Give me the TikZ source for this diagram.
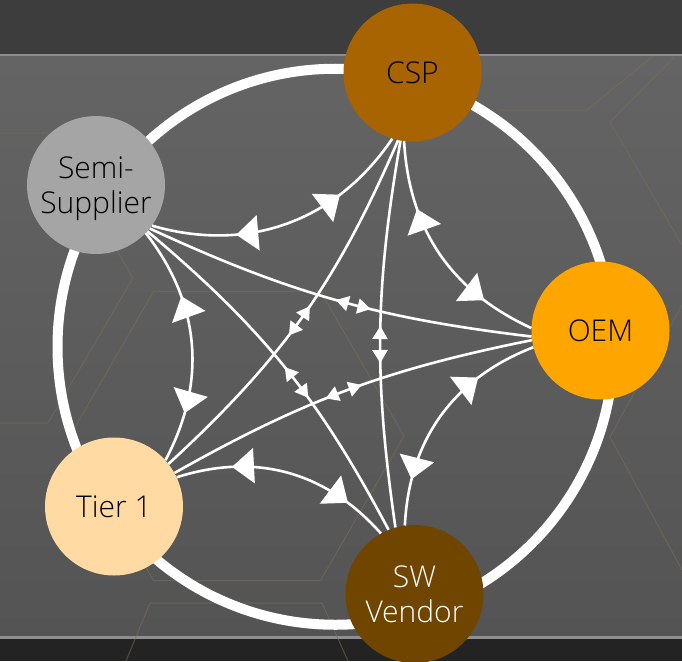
\documentclass[tikz,border=0pt]{standalone}
\usepackage{fontspec}
\setmainfont{Open Sans Light}
\usetikzlibrary{arrows.meta,decorations.markings}
\definecolor{bgtop}{HTML}{3D3D3D}
\definecolor{bgline}{HTML}{8E8E8E}
\definecolor{bgmaintop}{HTML}{646464}
\definecolor{bgmainbot}{HTML}{545454}
\definecolor{bgbot}{HTML}{232323}
\definecolor{hexc}{RGB}{120,112,86}
\definecolor{cspc}{HTML}{A86400}
\definecolor{semic}{HTML}{A5A5A5}
\definecolor{oemc}{HTML}{FFA500}
\definecolor{tierc}{HTML}{FFDAA3}
\definecolor{swc}{HTML}{6F4500}
\begin{document}
\begin{tikzpicture}[x=1pt,y=1pt,
  party/.style={circle, minimum size=138pt, inner sep=0pt, align=center,
    text depth=0pt, font=\fontsize{30}{35}\selectfont},
  link/.style={draw=white, line width=2.6pt},
  hexline/.style={draw=hexc, line width=1pt, opacity=0.55},
  bigarrows/.style 2 args={postaction={decorate}, decoration={markings,
    mark=at position #1 with {\arrowreversed[white]{Triangle[length=22pt,width=35pt]}},
    mark=at position #2 with {\arrow[white]{Triangle[length=22pt,width=35pt]}}}},
  smallarrows/.style 2 args={postaction={decorate}, decoration={markings,
    mark=at position #1 with {\arrowreversed[white]{Triangle[length=13pt,width=15pt]}},
    mark=at position #2 with {\arrow[white]{Triangle[length=13pt,width=15pt]}}}}
]
\useasboundingbox (0,0) rectangle (682,-661);
% background
\fill[bgtop] (0,0) rectangle (682,-54);
\fill[bgline] (0,-54) rectangle (682,-57);
\shade[top color=bgmaintop, bottom color=bgmainbot] (0,-57) rectangle (682,-636);
\fill[bgline] (0,-636) rectangle (682,-639);
\fill[bgbot] (0,-639) rectangle (682,-661);
% faint hexagon pattern
\draw[hexline] (153.5,-291.4) -- (320.5,-291.4) -- (404,-436) -- (320.5,-580.6) -- (153.5,-580.6) -- (70,-436) -- cycle;
\draw[hexline] (126,-661) -- (150,-603) -- (322,-603) -- (348,-661);
\draw[hexline] (500,-110) -- (587,-110) -- (652,-57);
\draw[hexline] (674,-57) -- (610,-122) -- (682,-245);
\draw[hexline] (682,-305) -- (610,-437) -- (682,-570);
\draw[hexline] (0,-133) -- (48,-133) -- (133,-278) -- (48,-423) -- (0,-423);
% ring
\coordinate (ringc) at (335.5,-346.75);
\draw[white, line width=10pt] (ringc) circle (278);
% nodes
\node[party, fill=cspc] (csp) at (412.5,-72.5) {CSP};
\node[party, fill=semic] (semi) at (96,-185) {Semi-\\Supplier};
\node[party, fill=oemc] (oem) at (600.5,-330.5) {OEM};
\node[party, fill=tierc] (tier) at (114,-506.5) {Tier 1};
\node[party, fill=swc, text=white] (sw) at (414.5,-594) {SW\\Vendor};
% adjacent links
\draw[link, bigarrows={0.31}{0.72}] (semi.-36) to[bend right=36] (csp.-107);
\draw[link, bigarrows={0.29}{0.77}] (csp.-97) to[bend right=31] (oem.178);
\draw[link, bigarrows={0.27}{0.80}] (oem.-166) to[bend right=33] (sw.98);
\draw[link, bigarrows={0.20}{0.75}] (sw.119) to[bend right=33] (tier.25);
\draw[link, bigarrows={0.21}{0.70}] (tier.42) to[bend right=33] (semi.-44.5);
% diagonal links
\draw[link, smallarrows={0.50}{0.59}] (semi.-39) to[bend right=9] (oem.-175);
\draw[link, smallarrows={0.46}{0.56}] (oem.-172) to[bend right=9] (tier.29.5);
\draw[link, smallarrows={0.44}{0.53}] (tier.38) to[bend right=12] (csp.-102);
\draw[link, smallarrows={0.48}{0.575}] (csp.-100) to[bend right=9] (sw.106);
\draw[link, smallarrows={0.40}{0.50}] (sw.112) to[bend right=11] (semi.-42);
\end{tikzpicture}
\end{document}
